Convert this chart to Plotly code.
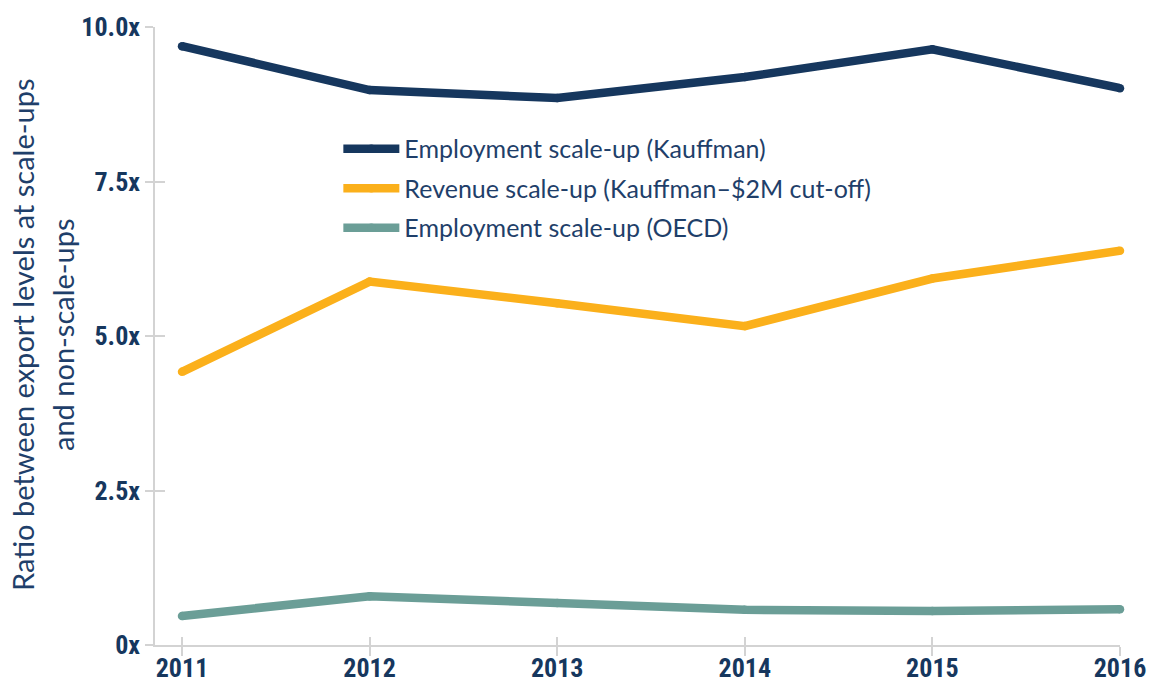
import plotly.graph_objects as go

# Export-level ratio, scale-ups vs non-scale-ups, by year
years = [2011, 2012, 2013, 2014, 2015, 2016]
employment_kauffman = [9.69, 8.98, 8.85, 9.19, 9.64, 9.01]
revenue_kauffman = [4.42, 5.88, 5.53, 5.16, 5.93, 6.38]
employment_oecd = [0.47, 0.79, 0.68, 0.57, 0.55, 0.58]

series_names = [
    "Employment scale-up (Kauffman)",
    "Revenue scale-up (Kauffman\u2013$2M cut-off)",
    "Employment scale-up (OECD)",
]
series_colors = ["#16375e", "#fbb01b", "#6b9e97"]

y_tickvals = [0, 2.5, 5, 7.5, 10]
y_ticktext = ["0x", "2.5x", "5.0x", "7.5x", "10.0x"]

TICK_FONT = dict(family="Roboto Condensed", size=26, color="#16375e", weight="bold")
TEXT_COLOR = "#1f3f6a"
GRID_GREY = "#d3d3d3"
LINE_W = 8.5

W, H = 1151, 690
M = dict(l=155, r=31, t=27, b=45)
x_range = [2010.856, 2016]
y_range = [0, 10]

fig = go.Figure()
values = [employment_kauffman, revenue_kauffman, employment_oecd]
for i, (name, vals, col) in enumerate(zip(series_names, values, series_colors)):
    fig.add_trace(go.Scatter(
        x=years, y=vals, name=name,
        mode="lines+markers",
        line=dict(color=col, width=LINE_W),
        marker=dict(color=col, size=LINE_W),
        cliponaxis=False,
        legendgroup=f"g{i}",
        # last series sits on the overlay axes that carry the inner tick marks
        xaxis="x2" if i == 2 else "x",
        yaxis="y2" if i == 2 else "y",
    ))

axis_common = dict(showgrid=False, zeroline=False, tickcolor=GRID_GREY,
                   tickwidth=1.5, automargin=False)

fig.update_layout(
    width=W, height=H,
    margin=M,
    plot_bgcolor="white", paper_bgcolor="white",
    xaxis=dict(range=x_range, tickvals=years, ticks="outside", ticklen=9,
               showline=True, linecolor=GRID_GREY, linewidth=1.5,
               tickfont=TICK_FONT, ticklabelstandoff=-10, **axis_common),
    yaxis=dict(range=y_range, tickvals=y_tickvals, ticktext=y_ticktext,
               ticks="outside", ticklen=8, showline=True, linecolor=GRID_GREY,
               linewidth=1.5, tickfont=TICK_FONT, ticklabelstandoff=0, **axis_common),
    xaxis2=dict(range=x_range, tickvals=years, ticks="inside", ticklen=8,
                overlaying="x", anchor="y2", side="bottom", showticklabels=False,
                showline=False, **axis_common),
    yaxis2=dict(range=y_range, tickvals=y_tickvals, ticks="inside", ticklen=10,
                overlaying="y", anchor="x2", side="left", showticklabels=False,
                showline=False, **axis_common),
    legend=dict(x=0.19, y=0.84, xanchor="left", yanchor="top",
                font=dict(family="Lato", size=25, color=TEXT_COLOR),
                tracegroupgap=4, itemwidth=56, bgcolor="rgba(0,0,0,0)"),
    showlegend=True,
)

# Two-line y-axis title
plot_w = W - M["l"] - M["r"]
plot_h = H - M["t"] - M["b"]
title_lines = ["Ratio between export levels at scale-ups", "and non-scale-ups"]
for line, xpx in zip(title_lines, [22, 62]):
    fig.add_annotation(
        text=line, textangle=-90, showarrow=False,
        xref="paper", yref="paper",
        x=(xpx - M["l"]) / plot_w, y=(H - M["b"] - 335) / plot_h,
        xanchor="center", yanchor="middle",
        font=dict(family="Lato", size=29, color=TEXT_COLOR),
    )

fig.write_html("out.html")
